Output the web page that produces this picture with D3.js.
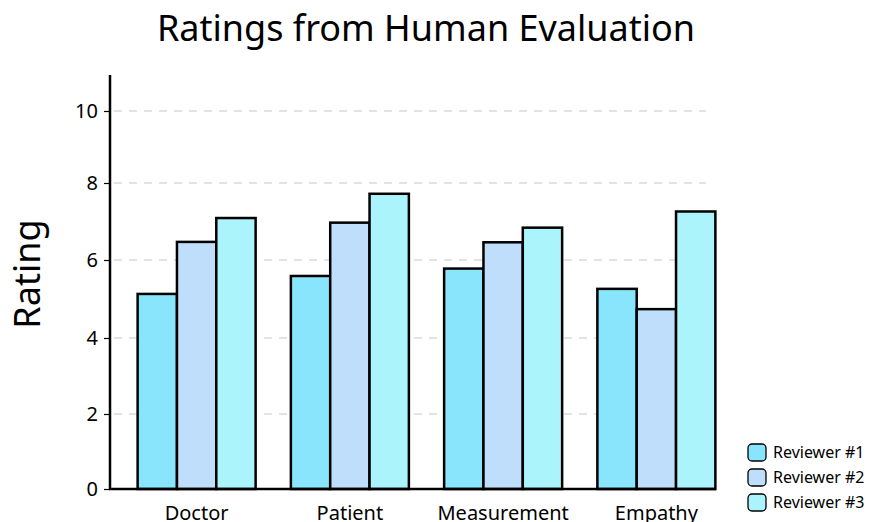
<!DOCTYPE html>
<html>
<head>
<meta charset="utf-8">
<script src="https://cdn.jsdelivr.net/npm/d3@7"></script>
<style>
  body { margin: 0; background: #fff; }
  text { font-family: 'Noto Sans', sans-serif; }
</style>
</head>
<body>
<div id="chart"></div>
<script>
const categories = ['Doctor', 'Patient', 'Measurement', 'Empathy']
const reviewers = ['Reviewer #1', 'Reviewer #2', 'Reviewer #3']
const reviewer1 = [5.13, 5.59, 5.78, 5.26]
const reviewer2 = [6.47, 6.97, 6.46, 4.74]
const reviewer3 = [7.09, 7.72, 6.84, 7.26]
const yTicks = [0, 2, 4, 6, 8, 10]

const series = [reviewer1, reviewer2, reviewer3]
const colors = ['#89e5fc', '#bfdefc', '#abf4fc']

const width = 870
const height = 522
const svg = d3.select('#chart')
  .append('svg')
  .attr('width', width)
  .attr('height', height)

// slightly uneven vertical scale, like the hand-drawn original
const y = d3.scaleLinear()
  .domain([0, 2, 4, 6, 8, 10, 11])
  .range([489, 414, 338, 260, 183, 111, 75])

const x0 = d3.scaleBand()
  .domain(categories)
  .range([120, 733])
  .paddingInner(0.23)
  .paddingOuter(0.115)

const x1 = d3.scaleBand()
  .domain(d3.range(reviewers.length))
  .range([0, x0.bandwidth()])

// grid
svg.append('g')
  .selectAll('line')
  .data(yTicks.filter(d => d > 0))
  .enter()
  .append('line')
  .attr('x1', 114)
  .attr('x2', 706)
  .attr('y1', d => y(d))
  .attr('y2', d => y(d))
  .attr('stroke', '#c8c8c8')
  .attr('stroke-width', 1.2)
  .attr('stroke-dasharray', '8,7')

// bars
const groups = svg.append('g')
  .selectAll('g')
  .data(categories)
  .enter()
  .append('g')
  .attr('transform', d => `translate(${x0(d)},0)`)

groups.selectAll('rect')
  .data((d, i) => series.map((s, j) => ({ j, v: s[i] })))
  .enter()
  .append('rect')
  .attr('x', d => x1(d.j))
  .attr('width', x1.bandwidth())
  .attr('y', d => y(d.v))
  .attr('height', d => y(0) - y(d.v))
  .attr('fill', d => colors[d.j])
  .attr('stroke', '#000')
  .attr('stroke-width', 2.5)

// axes
const yAxis = d3.axisLeft(y)
  .tickValues(yTicks)
  .tickSize(6)
  .tickPadding(6)
const ya = svg.append('g')
  .attr('transform', 'translate(110,0)')
  .call(yAxis)
ya.select('.domain').remove()
ya.selectAll('.tick line').attr('stroke', '#000').attr('stroke-width', 1.2)
ya.selectAll('.tick text')
  .attr('font-size', '20px')
  .attr('fill', '#000')
  .style('font-family', "'Noto Sans', sans-serif")

svg.append('line')
  .attr('x1', 110).attr('x2', 110)
  .attr('y1', y(11)).attr('y2', y(0) + 1)
  .attr('stroke', '#000').attr('stroke-width', 2.5)
svg.append('line')
  .attr('x1', 109).attr('x2', x0.range()[1] - 17)
  .attr('y1', y(0)).attr('y2', y(0))
  .attr('stroke', '#000').attr('stroke-width', 2.5)

svg.append('g')
  .selectAll('text')
  .data(categories)
  .enter()
  .append('text')
  .attr('x', d => x0(d) + x0.bandwidth() / 2)
  .attr('y', 520)
  .attr('text-anchor', 'middle')
  .attr('font-size', '20px')
  .text(d => d)

// titles
svg.append('text')
  .attr('x', 426)
  .attr('y', 41)
  .attr('text-anchor', 'middle')
  .attr('font-size', '36px')
  .text('Ratings from Human Evaluation')

svg.append('text')
  .attr('transform', 'translate(40,274) rotate(-90)')
  .attr('text-anchor', 'middle')
  .attr('font-size', '36px')
  .text('Rating')

// legend
const legend = svg.append('g')
  .attr('transform', 'translate(748,444)')
  .selectAll('g')
  .data(reviewers)
  .enter()
  .append('g')
  .attr('transform', (d, i) => `translate(0,${i * 25})`)
legend.append('rect')
  .attr('width', 18)
  .attr('height', 17)
  .attr('rx', 4)
  .attr('fill', (d, i) => colors[i])
  .attr('stroke', '#000')
  .attr('stroke-width', 1.3)
legend.append('text')
  .attr('x', 25)
  .attr('y', 14)
  .attr('font-size', '16px')
  .text(d => d)
</script>
</body>
</html>
